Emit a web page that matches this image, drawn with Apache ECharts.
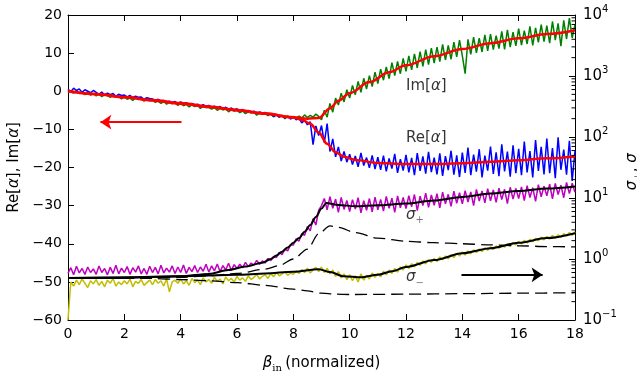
<!DOCTYPE html>
<html><head><meta charset="utf-8">
<script src="https://cdn.jsdelivr.net/npm/echarts@6/dist/echarts.min.js"></script>
<style>html,body{margin:0;padding:0;background:#fff}#c{width:637px;height:374px}</style>
</head><body><div id="c"></div>
<script>
// sampling grid of the measured traces (beta_in, normalized)
const xStep = 0.1;

// Im[alpha] measured (green), left axis
const imNoisy = [
0.3,-0.2,-0.5,0.1,-0.6,-0.3,-0.9,-0.4,-1.0,-0.6,
-1.2,-0.7,-1.4,-0.9,-1.1,-1.6,-1.0,-1.5,-1.2,-2.0,
-1.5,-2.1,-1.8,-2.4,-1.7,-2.2,-2.0,-2.6,-2.1,-2.5,
-2.3,-2.9,-2.6,-3.2,-2.7,-3.4,-2.9,-3.3,-3.0,-3.7,
-3.2,-3.8,-3.4,-4.1,-3.6,-4.0,-3.7,-4.5,-3.9,-4.3,
-4.2,-4.7,-4.3,-5.0,-4.5,-4.9,-4.6,-5.4,-4.8,-5.2,
-5.0,-5.6,-5.2,-5.9,-5.4,-5.7,-5.5,-6.3,-5.7,-6.0,
-5.9,-6.4,-6.0,-6.7,-6.2,-6.8,-6.4,-7.2,-6.6,-7.0,
-6.6,-7.1,-6.5,-7.0,-6.2,-6.9,-6.3,-6.8,-6.0,-6.6,
-7.5,-5.0,-6.8,-3.2,-5.5,-1.8,-3.6,-0.5,-2.8,0.4,
-1.8,1.5,-0.9,2.6,-0.3,3.4,0.6,4.1,1.2,5.0,
2.0,5.8,2.9,6.4,3.3,7.5,4.1,7.8,4.6,8.6,
5.2,9.3,5.6,9.8,6.1,10.4,6.5,10.9,7.0,11.3,
7.4,11.6,7.8,12.3,8.2,12.0,8.4,12.9,9.0,13.4,
9.3,4.6,13.6,9.7,14.2,10.1,13.9,10.3,14.8,10.6,
15.0,10.9,14.6,11.2,15.7,11.0,16.1,11.6,15.5,11.9,
16.4,12.1,15.9,12.4,17.0,12.0,16.6,12.8,17.5,13.0,
17.2,12.6,18.3,13.4,17.8,11.8,18.6,13.7,19.2,14.0,17.5];

// Re[alpha] measured (blue), left axis
const reNoisy = [
0.5,-0.1,0.8,0.2,0.6,-0.3,0.4,0.0,-0.4,0.2,
-0.3,-0.8,-0.2,-1.0,-0.5,-0.9,-0.6,-1.3,-0.8,-1.1,
-1.0,-1.5,-1.1,-1.7,-1.3,-1.6,-1.5,-2.1,-1.7,-1.9,
-2.0,-2.5,-2.1,-2.6,-2.4,-2.9,-2.6,-3.0,-2.7,-3.3,
-2.8,-3.3,-3.0,-3.5,-3.2,-3.6,-3.4,-3.9,-3.5,-4.0,
-3.7,-4.2,-3.9,-4.4,-4.0,-4.6,-4.2,-4.7,-4.4,-4.9,
-4.6,-5.1,-4.8,-5.4,-5.0,-5.5,-5.2,-5.8,-5.4,-5.7,
-5.6,-6.1,-5.9,-6.6,-6.1,-6.8,-6.3,-7.0,-6.5,-7.3,
-6.7,-7.5,-7.0,-8.3,-7.6,-8.8,-8.0,-14.0,-9.1,-11.6,
-9.0,-13.5,-8.5,-15.8,-12.5,-17.2,-14.6,-18.3,-15.8,-18.6,
-16.5,-19.2,-17.0,-19.8,-16.2,-19.5,-17.4,-20.1,-16.8,-20.4,
-17.3,-20.6,-16.9,-21.0,-17.6,-20.3,-16.4,-21.4,-17.8,-20.8,
-16.7,-21.3,-17.5,-22.0,-16.2,-20.9,-17.1,-21.6,-15.9,-21.2,
-17.4,-21.8,-16.3,-22.2,-17.0,-20.7,-15.6,-21.9,-16.8,-22.5,
-16.1,-21.4,-14.8,-22.0,-16.6,-21.1,-15.2,-22.6,-16.9,-20.8,
-14.5,-21.7,-16.0,-22.3,-13.9,-21.0,-15.8,-22.4,-14.2,-21.5,
-15.1,-22.0,-13.2,-21.3,-15.7,-22.6,-12.8,-20.9,-14.6,-21.8,
-12.4,-21.5,-14.9,-22.8,-12.1,-20.6,-15.3,-21.9,-13.0,-23.5,-15.6];

// sigma_+ measured (magenta), right log axis
const sigPlusNoisy = [
0.58,0.72,0.55,0.76,0.59,0.70,0.56,0.74,0.60,0.69,
0.56,0.77,0.60,0.70,0.55,0.73,0.58,0.79,0.57,0.71,
0.60,0.75,0.56,0.72,0.61,0.77,0.57,0.70,0.56,0.76,
0.60,0.73,0.57,0.79,0.59,0.71,0.61,0.77,0.58,0.74,
0.60,0.80,0.58,0.73,0.62,0.78,0.60,0.74,0.63,0.82,
0.61,0.77,0.64,0.83,0.62,0.78,0.66,0.85,0.65,0.81,
0.70,0.82,0.72,0.88,0.75,0.86,0.79,0.95,0.82,0.93,
0.86,1.02,0.94,1.10,1.06,1.28,1.18,1.45,1.36,1.70,
1.70,2.15,1.95,2.60,2.45,3.40,2.90,4.6,3.6,6.3,
7.5,9.8,6.4,10.5,6.8,9.6,5.8,10.2,6.5,9.1,
6.0,9.4,6.6,10.1,5.7,9.0,6.3,9.8,5.9,10.3,
6.4,9.5,6.1,10.6,6.8,9.9,5.8,10.8,6.9,10.2,
6.7,10.9,7.2,11.4,6.2,10.7,7.5,12.0,7.0,11.2,
7.6,11.8,6.9,12.5,8.0,11.5,7.3,13.0,8.2,12.2,
8.0,13.2,8.6,12.6,7.5,13.8,8.9,13.1,8.3,14.2,
9.0,13.6,8.5,14.5,9.4,13.9,8.1,15.0,9.6,14.4,
9.8,15.2,9.1,16.0,10.2,14.8,8.8,16.5,10.5,15.6,
10.9,16.8,9.7,17.3,11.4,16.2,10.1,18.0,11.8,17.5,12.4];

// sigma_- measured (olive/yellow), right log axis
const sigMinusNoisy = [
0.10,0.42,0.36,0.45,0.38,0.47,0.40,0.34,0.44,0.39,
0.46,0.37,0.43,0.35,0.45,0.40,0.48,0.36,0.42,0.38,
0.44,0.39,0.47,0.35,0.43,0.40,0.46,0.37,0.41,0.45,
0.38,0.46,0.40,0.44,0.36,0.47,0.29,0.42,0.45,0.40,
0.47,0.39,0.44,0.37,0.48,0.41,0.45,0.38,0.49,0.42,
0.46,0.40,0.50,0.43,0.47,0.39,0.51,0.44,0.48,0.42,
0.52,0.45,0.49,0.43,0.53,0.46,0.50,0.56,0.47,0.52,
0.55,0.48,0.58,0.51,0.60,0.53,0.57,0.62,0.54,0.59,
0.56,0.64,0.58,0.67,0.60,0.71,0.59,0.66,0.73,0.62,
0.74,0.60,0.70,0.57,0.66,0.52,0.62,0.49,0.57,0.46,
0.55,0.44,0.53,0.42,0.57,0.45,0.54,0.47,0.59,0.50,
0.58,0.51,0.63,0.55,0.66,0.58,0.70,0.61,0.74,0.66,
0.80,0.70,0.84,0.74,0.88,0.79,0.93,0.83,0.98,0.88,
1.02,0.91,1.08,0.97,1.12,1.01,1.18,1.06,1.24,1.12,
1.30,1.16,1.35,1.22,1.41,1.28,1.46,1.33,1.52,1.39,
1.58,1.44,1.64,1.50,1.70,1.56,1.78,1.62,1.86,1.70,
1.94,1.76,2.02,1.83,2.10,1.92,2.18,1.98,2.28,2.06,
2.34,2.12,2.42,2.20,2.50,2.28,2.60,2.38,2.72,2.46,2.80];

// fitted curves [beta, value]
const imFit = [[0,0],[1,-0.8],[2,-1.6],[3,-2.4],[4,-3.3],[5,-4.1],[6,-5.0],[7,-5.9],[8,-6.8],[8.5,-7.2],[8.9,-7.0],[9.3,-4.5],[9.6,-2.5],[10,-0.5],[10.7,2.4],[11.4,5.0],[12,6.8],[13,9.2],[14,11.1],[15,12.6],[16,13.9],[17,15.0],[18,16.0]];
const reFit = [[0,0.1],[1,-0.7],[2,-1.5],[3,-2.3],[4,-3.1],[5,-4.0],[6,-4.9],[7,-5.8],[8,-6.9],[8.3,-7.5],[8.6,-8.5],[8.9,-10.8],[9.2,-13.8],[9.5,-16.0],[9.8,-17.2],[10.2,-18.0],[11,-18.8],[12,-19.1],[13,-19.1],[14,-18.9],[15,-18.5],[16,-18.1],[17,-17.6],[18,-17.1]];
const sigPlusFit = [[0,0.49],[2,0.49],[4,0.52],[5,0.57],[5.7,0.66],[6.3,0.75],[6.9,0.87],[7.2,1.0],[7.4,1.14],[7.6,1.32],[7.8,1.55],[8.0,1.84],[8.2,2.2],[8.4,2.8],[8.6,3.6],[8.8,4.9],[9.0,6.7],[9.17,8.3],[9.6,7.7],[10.2,7.3],[11,7.6],[12,8.1],[13,9.1],[14,10.4],[15,11.8],[16,13.0],[17,14.3],[18,15.5]];
const sigMinusFit = [[0,0.49],[2,0.5],[4,0.52],[6,0.55],[7,0.58],[8,0.62],[8.9,0.68],[9.3,0.61],[9.8,0.52],[10.4,0.5],[11,0.55],[11.5,0.63],[12,0.74],[13,0.96],[14,1.24],[15,1.5],[16,1.85],[17,2.2],[18,2.65]];
const sigPlusModel = [[0,0.49],[4,0.5],[5,0.53],[6,0.58],[7,0.68],[7.5,0.78],[8,1.0],[8.5,1.45],[8.9,2.6],[9.3,3.5],[9.6,3.3],[10.2,2.7],[11,2.2],[12,1.95],[13,1.85],[14,1.78],[15,1.7],[16,1.65],[17,1.6],[18,1.58]];
const sigMinusModel = [[0,0.49],[3,0.48],[4,0.46],[5,0.44],[6,0.41],[7,0.37],[8,0.32],[8.5,0.3],[9,0.275],[9.5,0.265],[10,0.262],[12,0.265],[14,0.27],[16,0.275],[18,0.28]];

// annotations
const redArrow = [[4.03,-8.1],[1.15,-8.1]];
const blackArrow = [[13.97,0.55],[16.85,0.55]];
const labelsLeft = [{text:'Im', pos:[12.0,1.4]},{text:'Re', pos:[12.0,-12.2]}];
const labelsRight = [{text:'+', pos:[12.0,5.3]},{text:'\u2212', pos:[12.0,0.50]}];

// axes
const xMin = 0, xMax = 18, xInterval = 2;
const yMin = -60, yMax = 20, yInterval = 10;
const logMin = 0.1, logMax = 10000;
const minorLog = [];
for (let e = -1; e < 4; e++) for (let m = 2; m <= 9; m++) minorLog.push(m * Math.pow(10, e));

const withX = arr => arr.map((v, i) => [+(i * xStep).toFixed(2), v]);

const FONT = 'DejaVu Sans';
const minus = v => String(v).replace('-', '\u2212');

const chart = echarts.init(document.getElementById('c'), null, {renderer: 'canvas'});
const richSub = {
  s: {fontFamily: FONT, fontStyle: 'italic', fontSize: 15, color: '#000', lineHeight: 22, verticalAlign: 'middle'},
  sub: {fontFamily: FONT, fontSize: 10, color: '#555', lineHeight: 22, verticalAlign: 'bottom'},
  n: {fontFamily: FONT, fontSize: 15, color: '#000', lineHeight: 22},
  a: {fontFamily: FONT, fontStyle: 'italic', fontSize: 15, color: '#000', lineHeight: 22}
};
const NW = 1.5;

chart.setOption({
  animation: false,
  backgroundColor: '#fff',
  grid: {left: 68, right: 62, top: 15, bottom: 54, containLabel: false, outerBoundsMode: 'none'},
  xAxis: [{
    type: 'value', min: xMin, max: xMax, interval: xInterval, position: 'bottom',
    axisLine: {show: true, onZero: false, lineStyle: {color: '#000', width: 1}},
    axisTick: {show: true, inside: true, length: 6, lineStyle: {color: '#000'}},
    axisLabel: {fontFamily: FONT, fontSize: 14, color: '#000', margin: 7},
    splitLine: {show: false},
    name: '{b|\u03b2}{i|in} {n|(normalized)}', nameLocation: 'middle', nameGap: 33,
    nameTextStyle: {rich: {
      b: {fontFamily: FONT, fontStyle: 'italic', fontSize: 15, color: '#000', lineHeight: 20},
      i: {fontFamily: 'DejaVu Serif', fontSize: 10, color: '#000', lineHeight: 20, verticalAlign: 'bottom'},
      n: {fontFamily: FONT, fontSize: 15, color: '#000', lineHeight: 20}
    }}
  }, {
    type: 'value', min: xMin, max: xMax, interval: xInterval, position: 'top',
    axisLine: {show: true, onZero: false, lineStyle: {color: '#000', width: 1}},
    axisTick: {show: true, inside: true, length: 6, lineStyle: {color: '#000'}},
    axisLabel: {show: false}, splitLine: {show: false}
  }],
  yAxis: [{
    type: 'value', min: yMin, max: yMax, interval: yInterval, position: 'left',
    axisLine: {show: true, onZero: false, lineStyle: {color: '#000', width: 1}},
    axisTick: {show: true, inside: true, length: 6, lineStyle: {color: '#000'}},
    axisLabel: {fontFamily: FONT, fontSize: 14, color: '#000', margin: 6, formatter: minus},
    splitLine: {show: false},
    name: '{n|Re[}{a|\u03b1}{n|], Im[}{a|\u03b1}{n|]}', nameLocation: 'middle', nameGap: 43, nameRotate: 90,
    nameMoveOverlap: false,
    nameTextStyle: {rich: richSub}
  }, {
    type: 'log', logBase: 10, min: logMin, max: logMax, position: 'right',
    axisLine: {show: true, onZero: false, lineStyle: {color: '#000', width: 1}},
    axisTick: {show: true, inside: true, length: 6, lineStyle: {color: '#000'}},
    axisLabel: {fontFamily: FONT, fontSize: 14, color: '#000', margin: 8,
      formatter: v => '{b|10}{p|' + minus(Math.round(Math.log10(v))) + '}',
      rich: {b: {fontFamily: FONT, fontSize: 15, color: '#000', lineHeight: 22, verticalAlign: 'middle'},
             p: {fontFamily: FONT, fontSize: 10, color: '#000', lineHeight: 22, verticalAlign: 'top'}}},
    splitLine: {show: false},
    name: '{s|\u03c3}{sub|+}{n|, }{s|\u03c3}{sub|\u2212}', nameLocation: 'middle', nameGap: 46, nameRotate: 90,
    nameMoveOverlap: false,
    nameTextStyle: {rich: richSub}
  }],
  series: [
    {type: 'line', data: withX(imNoisy), showSymbol: false, lineStyle: {color: '#008000', width: NW}, z: 2},
    {type: 'line', data: withX(reNoisy), showSymbol: false, lineStyle: {color: '#0000ff', width: NW}, z: 2},
    {type: 'line', data: withX(sigPlusNoisy), yAxisIndex: 1, showSymbol: false, lineStyle: {color: '#bf00bf', width: NW}, z: 2},
    {type: 'line', data: withX(sigMinusNoisy), yAxisIndex: 1, showSymbol: false, lineStyle: {color: '#bfbf00', width: NW}, z: 2},
    {type: 'line', data: imFit, showSymbol: false, smooth: 0.35, smoothMonotone: 'x', lineStyle: {color: '#ff0000', width: 2.5}, z: 3},
    {type: 'line', data: reFit, showSymbol: false, smooth: 0.35, smoothMonotone: 'x', lineStyle: {color: '#ff0000', width: 2.5}, z: 3},
    {type: 'line', data: sigPlusFit, yAxisIndex: 1, showSymbol: false, smooth: 0.3, smoothMonotone: 'x', lineStyle: {color: '#000', width: 2}, z: 3},
    {type: 'line', data: sigMinusFit, yAxisIndex: 1, showSymbol: false, smooth: 0.3, smoothMonotone: 'x', lineStyle: {color: '#000', width: 2}, z: 3},
    {type: 'line', data: sigPlusModel, yAxisIndex: 1, showSymbol: false, smooth: 0.3, smoothMonotone: 'x', lineStyle: {color: '#000', width: 1.3, type: [12, 6]}, z: 3},
    {type: 'line', data: sigMinusModel, yAxisIndex: 1, showSymbol: false, smooth: 0.3, smoothMonotone: 'x', lineStyle: {color: '#000', width: 1.3, type: [12, 6]}, z: 3},
    {type: 'line', data: [], silent: true, z: 4,
      markLine: {silent: true, symbol: ['none', 'arrow'], symbolSize: [11, 11], label: {show: false},
        lineStyle: {color: '#ff0000', width: 2, type: 'solid'},
        data: [[{coord: redArrow[0]}, {coord: redArrow[1]}]]}},
    {type: 'line', data: [], yAxisIndex: 1, silent: true, z: 4,
      markLine: {silent: true, symbol: ['none', 'arrow'], symbolSize: [11, 11], label: {show: false},
        lineStyle: {color: '#000', width: 2, type: 'solid'},
        data: [[{coord: blackArrow[0]}, {coord: blackArrow[1]}]]}},
    {type: 'scatter', symbolSize: 0, silent: true, z: 5,
      data: labelsLeft.map(d => ({value: d.pos, name: d.text})),
      label: {show: true, position: 'right', distance: 0,
        formatter: p => '{n|' + p.name + '[}{a|\u03b1}{n|]}', rich: richSub}},
    {type: 'scatter', yAxisIndex: 1, symbolSize: 0, silent: true, z: 5,
      data: labelsRight.map(d => ({value: d.pos, name: d.text})),
      label: {show: true, position: 'right', distance: 0,
        formatter: p => '{s|\u03c3}{sub|' + p.name + '}', rich: richSub}},
    {type: 'custom', yAxisIndex: 1, silent: true, z: 6,
      data: minorLog.map(v => [xMax, v]),
      renderItem: (params, api) => {
        const p = api.coord([api.value(0), api.value(1)]);
        return {type: 'line', shape: {x1: p[0] - 3.5, y1: p[1], x2: p[0], y2: p[1]}, style: {stroke: '#000', lineWidth: 1}};
      }}
  ]
});
</script></body></html>
